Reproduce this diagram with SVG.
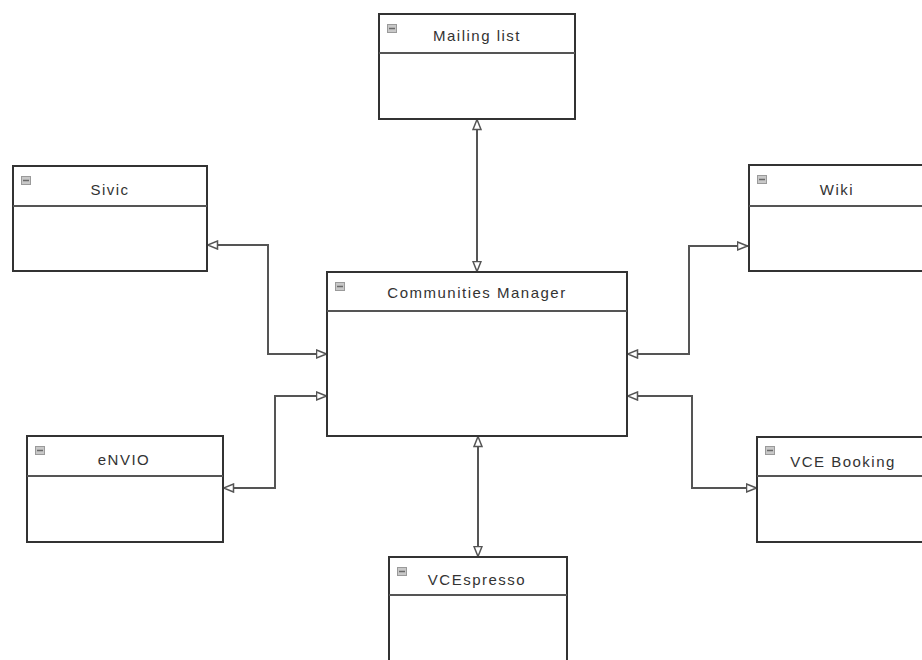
<svg xmlns="http://www.w3.org/2000/svg" width="922" height="660" viewBox="0 0 922 660">
<style>
.box{fill:#ffffff;stroke:#333333;stroke-width:2}
.div{stroke:#555555;stroke-width:2}
.icon{fill:#c8c8c8;stroke:#9a9a9a;stroke-width:1}
.minus{stroke:#6a6a6a;stroke-width:1.5}
.lbl{font-family:"Liberation Sans",Arial,sans-serif;font-size:15px;fill:#333333;text-anchor:middle;letter-spacing:1.5px}
.conn{fill:none;stroke:#555555;stroke-width:2;marker-start:url(#tri);marker-end:url(#tri)}
</style>
<defs>
<marker id="tri" viewBox="0 0 12 10" refX="11.5" refY="5" markerWidth="12" markerHeight="10" markerUnits="userSpaceOnUse" orient="auto-start-reverse">
<path d="M1,1 L11,5 L1,9 Z" fill="#ffffff" stroke="#555555" stroke-width="1.5"/>
</marker>
</defs>
<rect width="922" height="660" fill="#ffffff"/>
<g id="connectors">
<path class="conn" d="M477,119 L477,272"/>
<path class="conn" d="M207,245 L268,245 L268,354 L327,354"/>
<path class="conn" d="M327,396 L275,396 L275,488 L223,488"/>
<path class="conn" d="M748,246 L689,246 L689,354 L627,354"/>
<path class="conn" d="M627,396 L692,396 L692,488 L757,488"/>
<path class="conn" d="M478,436 L478,557"/>
</g>
<g id="mailing-list">
<rect class="box" x="379" y="14" width="196" height="105"/>
<line class="div" x1="379" y1="53" x2="575" y2="53"/>
<rect class="icon" x="387.5" y="24.5" width="9" height="8"/>
<line class="minus" x1="389" y1="28.5" x2="395" y2="28.5"/>
<text class="lbl" x="477" y="41">Mailing list</text>
</g>
<g id="sivic">
<rect class="box" x="13" y="166" width="194" height="105"/>
<line class="div" x1="13" y1="206" x2="207" y2="206"/>
<rect class="icon" x="21.5" y="176.5" width="9" height="8"/>
<line class="minus" x1="23" y1="180.5" x2="29" y2="180.5"/>
<text class="lbl" x="110" y="195">Sivic</text>
</g>
<g id="communities-manager">
<rect class="box" x="327" y="272" width="300" height="164"/>
<line class="div" x1="327" y1="311" x2="627" y2="311"/>
<rect class="icon" x="335.5" y="282.5" width="9" height="8"/>
<line class="minus" x1="337" y1="286.5" x2="343" y2="286.5"/>
<text class="lbl" x="477" y="298">Communities Manager</text>
</g>
<g id="wiki">
<rect class="box" x="749" y="165" width="178" height="106"/>
<line class="div" x1="749" y1="206" x2="927" y2="206"/>
<rect class="icon" x="757.5" y="175.5" width="9" height="8"/>
<line class="minus" x1="759" y1="179.5" x2="765" y2="179.5"/>
<text class="lbl" x="837" y="195">Wiki</text>
</g>
<g id="envio">
<rect class="box" x="27" y="436" width="196" height="106"/>
<line class="div" x1="27" y1="476" x2="223" y2="476"/>
<rect class="icon" x="35.5" y="446.5" width="9" height="8"/>
<line class="minus" x1="37" y1="450.5" x2="43" y2="450.5"/>
<text class="lbl" x="124" y="465">eNVIO</text>
</g>
<g id="vce-booking">
<rect class="box" x="757" y="437" width="172" height="105"/>
<line class="div" x1="757" y1="476" x2="929" y2="476"/>
<rect class="icon" x="765.5" y="446.5" width="9" height="8"/>
<line class="minus" x1="767" y1="450.5" x2="773" y2="450.5"/>
<text class="lbl" x="843" y="467">VCE Booking</text>
</g>
<g id="vcespresso">
<rect class="box" x="389" y="557" width="178" height="110"/>
<line class="div" x1="389" y1="595" x2="567" y2="595"/>
<rect class="icon" x="397.5" y="567.5" width="9" height="8"/>
<line class="minus" x1="399" y1="571.5" x2="405" y2="571.5"/>
<text class="lbl" x="477" y="585">VCEspresso</text>
</g>
</svg>
